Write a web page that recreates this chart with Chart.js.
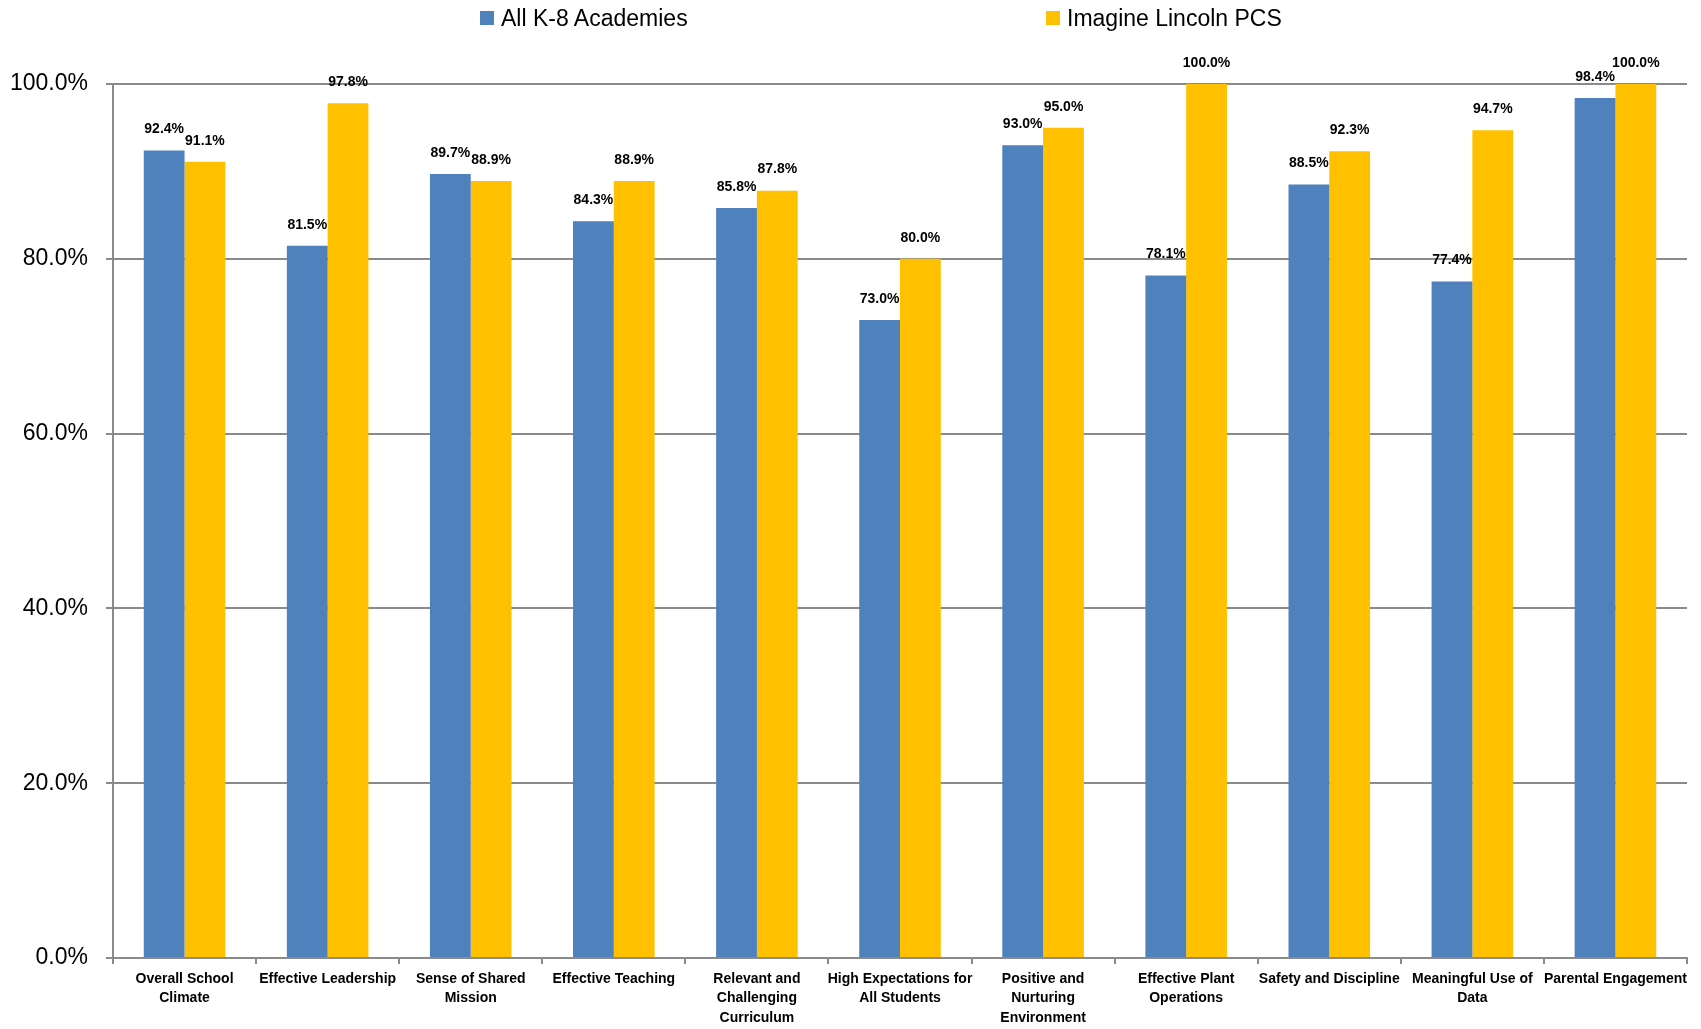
<!DOCTYPE html>
<html>
<head>
<meta charset="utf-8">
<script src="https://cdn.jsdelivr.net/npm/chart.js@4.4.1/dist/chart.umd.min.js"></script>
<style>
  html, body { margin: 0; padding: 0; background: #fff; }
  #wrap { position: relative; width: 1701px; height: 1029px; }
  #legend { position: absolute; top: 0; left: 0; width: 1701px; height: 40px; font-family: "Liberation Sans", Arial, sans-serif; font-size: 23px; color: #000; }
  .item { position: absolute; top: 4px; height: 28px; line-height: 28px; white-space: nowrap; }
  .box { position: absolute; top: 7px; width: 14px; height: 14px; }
  .txt { position: absolute; left: 21px; top: 0; }
</style>
</head>
<body>
<div id="wrap">
  <canvas id="c" width="1701" height="1029"></canvas>
  <div id="legend"></div>
</div>
<script>
const categories = [
  ["Overall School", "Climate"],
  "Effective Leadership",
  ["Sense of Shared", "Mission"],
  "Effective Teaching",
  ["Relevant and", "Challenging", "Curriculum"],
  ["High Expectations for", "All Students"],
  ["Positive and", "Nurturing", "Environment"],
  ["Effective Plant", "Operations"],
  "Safety and Discipline",
  ["Meaningful Use of", "Data"],
  "Parental Engagement"
];
const seriesNames = ["All K-8 Academies", "Imagine Lincoln PCS"];
const allK8 = [92.4, 81.5, 89.7, 84.3, 85.8, 73.0, 93.0, 78.1, 88.5, 77.4, 98.4];
const imagineLincoln = [91.1, 97.8, 88.9, 88.9, 87.8, 80.0, 95.0, 100.0, 92.3, 94.7, 100.0];
const yTicks = [0, 20, 40, 60, 80, 100];

const colors = ["#4F81BD", "#FFC000"];
const legendX = [480, 1046];

// HTML legend
const legendEl = document.getElementById('legend');
seriesNames.forEach((name, i) => {
  const it = document.createElement('div');
  it.className = 'item';
  it.style.left = legendX[i] + 'px';
  const b = document.createElement('span');
  b.className = 'box';
  b.style.background = colors[i];
  const t = document.createElement('span');
  t.className = 'txt';
  t.textContent = name;
  it.appendChild(b); it.appendChild(t);
  legendEl.appendChild(it);
});

const labelPlugin = {
  id: 'valueLabels',
  afterDatasetsDraw(chart) {
    const ctx = chart.ctx;
    ctx.save();
    ctx.font = 'bold 14px "Liberation Sans", Arial, sans-serif';
    ctx.fillStyle = '#000';
    ctx.textAlign = 'center';
    ctx.textBaseline = 'middle';
    chart.data.datasets.forEach((ds, di) => {
      const meta = chart.getDatasetMeta(di);
      meta.data.forEach((bar, i) => {
        ctx.fillText(ds.data[i].toFixed(1) + '%', bar.x, bar.y - 21);
      });
    });
    ctx.restore();
  }
};

const gridColor = '#8a8a8a';

new Chart(document.getElementById('c'), {
  type: 'bar',
  data: {
    labels: categories,
    datasets: [
      { label: seriesNames[0], data: allK8, backgroundColor: colors[0], barPercentage: 1.0, categoryPercentage: 0.57 },
      { label: seriesNames[1], data: imagineLincoln, backgroundColor: colors[1], barPercentage: 1.0, categoryPercentage: 0.57 }
    ]
  },
  options: {
    responsive: false,
    animation: false,
    devicePixelRatio: 1,
    layout: { padding: { top: 84, right: 14, bottom: 0, left: 0 } },
    plugins: { legend: { display: false }, tooltip: { enabled: false } },
    scales: {
      x: {
        grid: { display: true, drawOnChartArea: false, drawTicks: true, tickLength: 6, color: gridColor, lineWidth: 2, offset: true },
        border: { display: true, color: gridColor, width: 2 },
        ticks: {
          color: '#000',
          padding: 5,
          maxRotation: 0,
          autoSkip: false,
          font: { family: '"Liberation Sans", Arial, sans-serif', size: 14, weight: 'bold', lineHeight: 1.4 }
        },
        afterFit(scale) { scale.height = 71; }
      },
      y: {
        min: 0,
        max: 100,
        afterBuildTicks(scale) { scale.ticks = yTicks.map(v => ({ value: v })); },
        grid: { color: gridColor, lineWidth: 2, drawTicks: true, tickLength: 7 },
        border: { display: true, color: gridColor, width: 2 },
        ticks: {
          color: '#000',
          padding: 18,
          font: { family: '"Liberation Sans", Arial, sans-serif', size: 23 },
          callback: v => v.toFixed(1) + '%'
        },
        afterFit(scale) { scale.width = 113; }
      }
    }
  },
  plugins: [labelPlugin]
});
</script>
</body>
</html>
